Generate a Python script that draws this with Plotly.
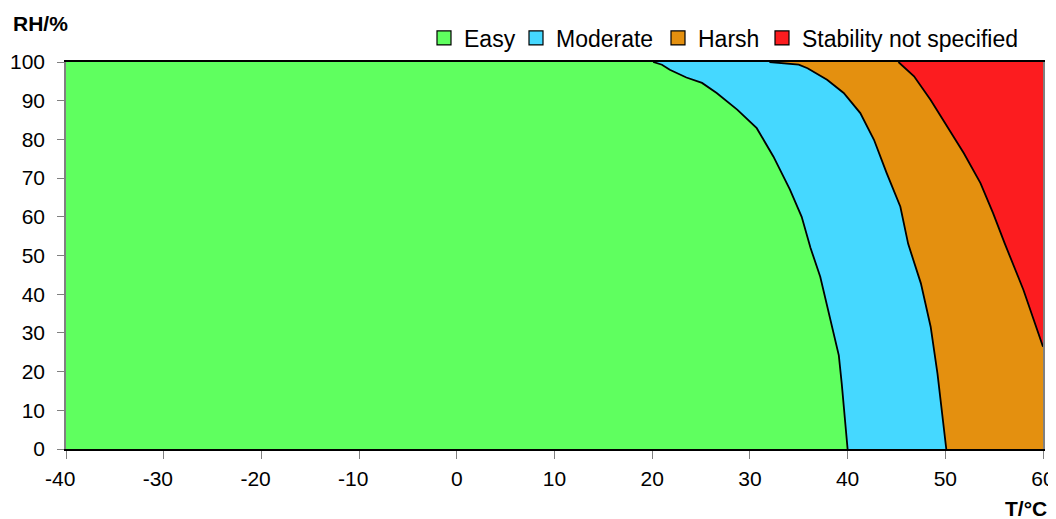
import plotly.graph_objects as go

# Boundary curves (T in °C, RH in %), from top (RH=100) to bottom
easy_T = [20.1, 21.0, 21.8, 23.5, 25.1, 26.6, 28.7, 30.7, 32.4, 34.1, 35.3, 36.2, 37.2, 38.2, 39.1, 39.4, 40.0]
easy_RH = [100, 99.3, 98.0, 96.0, 94.6, 92.0, 87.7, 82.9, 75.6, 67.0, 60.0, 52.0, 44.5, 34.2, 24.2, 16.9, 0]

mod_T = [32.0, 34.1, 35.0, 35.9, 37.9, 39.6, 41.3, 42.7, 44.0, 45.4, 46.2, 47.5, 48.5, 49.2, 49.7, 50.1]
mod_RH = [100, 99.6, 99.3, 98.4, 95.4, 92.0, 86.8, 79.9, 71.3, 62.6, 53.0, 42.8, 31.6, 19.5, 9.2, 0]

harsh_T = [45.2, 46.8, 48.5, 50.2, 51.9, 53.6, 54.9, 56.1, 58.0, 60.0]
harsh_RH = [100, 96.3, 90.2, 83.3, 76.4, 68.7, 60.9, 53.0, 41.1, 26.4]

x_min, x_max = -40, 60
y_min, y_max = 0, 100
x_ticks = list(range(-40, 61, 10))
y_ticks = list(range(0, 101, 10))

names = ["Easy", "Moderate", "Harsh", "Stability not specified"]
colors = ["#5FFF5F", "#45D8FF", "#E4900F", "#FC1C1F"]

# The page body adds an 8px offset; lay out in window pixels minus that offset
OFF = 8
W, H = 1056 - OFF, 519 - OFF
PL, PR, PT, PB = 66 - OFF, 1043 - OFF, 62 - OFF, 449 - OFF   # plot edges in figure px
ML, MR, MT, MB = PL, W - PR, PT, H - PB
PW, PH = PR - PL, PB - PT
legend_left_px = [424 - OFF, 516 - OFF, 658 - OFF, 762 - OFF]

fig = go.Figure()

# Green: whole area
fig.add_trace(go.Scatter(
    x=[x_min, x_max, x_max, x_min, x_min], y=[y_min, y_min, y_max, y_max, y_min],
    fill="toself", fillcolor=colors[0], mode="none", showlegend=False, hoverinfo="skip"))
# Blue: right of easy boundary
fig.add_trace(go.Scatter(
    x=easy_T + [x_max, x_max], y=easy_RH + [y_min, y_max],
    fill="toself", fillcolor=colors[1], mode="none", showlegend=False, hoverinfo="skip"))
# Orange: right of moderate boundary
fig.add_trace(go.Scatter(
    x=mod_T + [x_max, x_max], y=mod_RH + [y_min, y_max],
    fill="toself", fillcolor=colors[2], mode="none", showlegend=False, hoverinfo="skip"))
# Red: right of harsh boundary
fig.add_trace(go.Scatter(
    x=harsh_T + [x_max], y=harsh_RH + [y_max],
    fill="toself", fillcolor=colors[3], mode="none", showlegend=False, hoverinfo="skip"))

# Boundary lines
for tx, ry in [(easy_T, easy_RH), (mod_T, mod_RH), (harsh_T, harsh_RH)]:
    fig.add_trace(go.Scatter(x=tx, y=ry, mode="lines",
                             line=dict(color="black", width=1.8),
                             showlegend=False, hoverinfo="skip"))

FAM = "Liberation Sans, Arial, sans-serif"
leg_font = dict(family=FAM, size=23, color="black")

# Legend entries, each in its own legend for exact placement
layout_legends = {}
for i, (n, c, lx) in enumerate(zip(names, colors, legend_left_px)):
    key = "legend" if i == 0 else f"legend{i + 1}"
    fig.add_trace(go.Scatter(x=[None], y=[None], mode="markers", name=n, legend=key,
                             marker=dict(symbol="square", size=14, color=c,
                                         line=dict(color="black", width=1.2))))
    layout_legends[key] = dict(xref="container", yref="container",
                               x=lx / W, y=1 - (38 - OFF) / H,
                               xanchor="left", yanchor="middle",
                               font=leg_font, bgcolor="rgba(0,0,0,0)",
                               borderwidth=0, itemwidth=30)

tick_font = dict(family=FAM, size=21, color="black")
x_text = [f"{v}\u00a0\u00a0" if v < 0 else str(v) for v in x_ticks]

fig.update_layout(
    width=W, height=H,
    margin=dict(l=ML, r=MR, t=MT, b=MB, autoexpand=False),
    paper_bgcolor="white", plot_bgcolor="white",
    font=dict(family=FAM, color="black"),
    showlegend=True,
    xaxis=dict(range=[x_min, x_max], tickvals=x_ticks, ticktext=x_text,
               showgrid=False, zeroline=False, showline=True, linecolor="black",
               linewidth=1.5, mirror=True, ticks="outside", ticklen=8,
               tickcolor="#808080", tickwidth=1.2, tickfont=tick_font,
               ticklabelstandoff=2, automargin=False),
    yaxis=dict(range=[y_min, y_max], tickvals=y_ticks,
               showgrid=False, zeroline=False, showline=True, linecolor="#808080",
               linewidth=1.5, mirror=True, ticks="outside", ticklen=7,
               tickcolor="#808080", tickwidth=1.2, tickfont=tick_font,
               ticklabelstandoff=8, automargin=False),
    annotations=[
        dict(text="<b>RH/%</b>", xref="paper", yref="paper",
             x=(11 - OFF - PL) / PW, y=(PB - (24 - OFF)) / PH, xanchor="left", yanchor="middle",
             showarrow=False, font=dict(family=FAM, size=21, color="black")),
        dict(text="<b>T/°C</b>", xref="paper", yref="paper",
             x=(1049 - OFF - PL) / PW, y=(PB - (508 - OFF)) / PH, xanchor="right", yanchor="middle",
             showarrow=False, font=dict(family=FAM, size=21, color="black")),
    ],
    **layout_legends,
)

fig.write_html("out.html")
